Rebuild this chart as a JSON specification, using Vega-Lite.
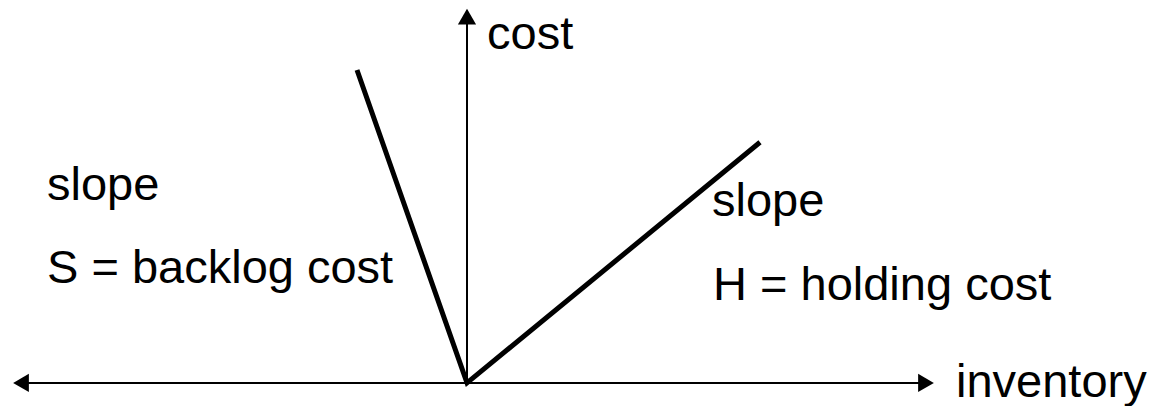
{
  "$schema": "https://vega.github.io/schema/vega-lite/v6.json",
  "width": 1152,
  "height": 406,
  "autosize": {"type": "fit", "contains": "padding"},
  "padding": 0,
  "background": "white",
  "config": {"view": {"stroke": null}},
  "datasets": {
    "vshape": [
      {"inventory": -110, "cost": 316, "order": 1},
      {"inventory": 0, "cost": 0, "order": 2},
      {"inventory": 293, "cost": 243, "order": 3}
    ],
    "axes": [
      {"name": "inventory", "x1": -452, "x2": 460, "y1": 0, "y2": 0},
      {"name": "cost", "x1": 0, "x2": 0, "y1": 0, "y2": 372}
    ],
    "arrows": [
      {"dir": "left", "x": -446, "y": 0, "shape": "triangle-left"},
      {"dir": "right", "x": 459, "y": 0, "shape": "triangle-right"},
      {"dir": "up", "x": 0, "y": 370, "shape": "triangle-up"}
    ],
    "labels": [
      {"label": "cost", "x": 20, "y": 337},
      {"label": "inventory", "x": 489, "y": -14},
      {"label": "slope", "x": -420, "y": 185},
      {"label": "S = backlog cost", "x": -420, "y": 101},
      {"label": "slope", "x": 245, "y": 169},
      {"label": "H = holding cost", "x": 246, "y": 84}
    ]
  },
  "layer": [
    {
      "data": {"name": "axes"},
      "mark": {"type": "rule", "color": "black", "strokeWidth": 2},
      "encoding": {
        "x": {"field": "x1", "type": "quantitative", "scale": {"domain": [-467, 685], "nice": false, "zero": false}, "axis": null},
        "x2": {"field": "x2"},
        "y": {"field": "y1", "type": "quantitative", "scale": {"domain": [-19.3, 386.7], "nice": false, "zero": false}, "axis": null},
        "y2": {"field": "y2"}
      }
    },
    {
      "data": {"name": "arrows"},
      "mark": {"type": "point", "filled": true, "color": "black", "size": 330, "opacity": 1},
      "encoding": {
        "x": {"field": "x", "type": "quantitative", "scale": {"domain": [-467, 685], "nice": false, "zero": false}, "axis": null},
        "y": {"field": "y", "type": "quantitative", "scale": {"domain": [-19.3, 386.7], "nice": false, "zero": false}, "axis": null},
        "shape": {"field": "shape", "type": "nominal", "scale": null, "legend": null}
      }
    },
    {
      "data": {"name": "vshape"},
      "mark": {"type": "line", "color": "black", "strokeWidth": 5, "strokeCap": "butt", "strokeJoin": "miter"},
      "encoding": {
        "x": {"field": "inventory", "type": "quantitative", "scale": {"domain": [-467, 685], "nice": false, "zero": false}, "axis": null},
        "y": {"field": "cost", "type": "quantitative", "scale": {"domain": [-19.3, 386.7], "nice": false, "zero": false}, "axis": null},
        "order": {"field": "order", "type": "quantitative"}
      }
    },
    {
      "data": {"name": "labels"},
      "mark": {"type": "text", "align": "left", "baseline": "alphabetic", "font": "Liberation Sans", "fontSize": 47, "color": "black"},
      "encoding": {
        "x": {"field": "x", "type": "quantitative", "scale": {"domain": [-467, 685], "nice": false, "zero": false}, "axis": null},
        "y": {"field": "y", "type": "quantitative", "scale": {"domain": [-19.3, 386.7], "nice": false, "zero": false}, "axis": null},
        "text": {"field": "label", "type": "nominal"}
      }
    }
  ]
}
